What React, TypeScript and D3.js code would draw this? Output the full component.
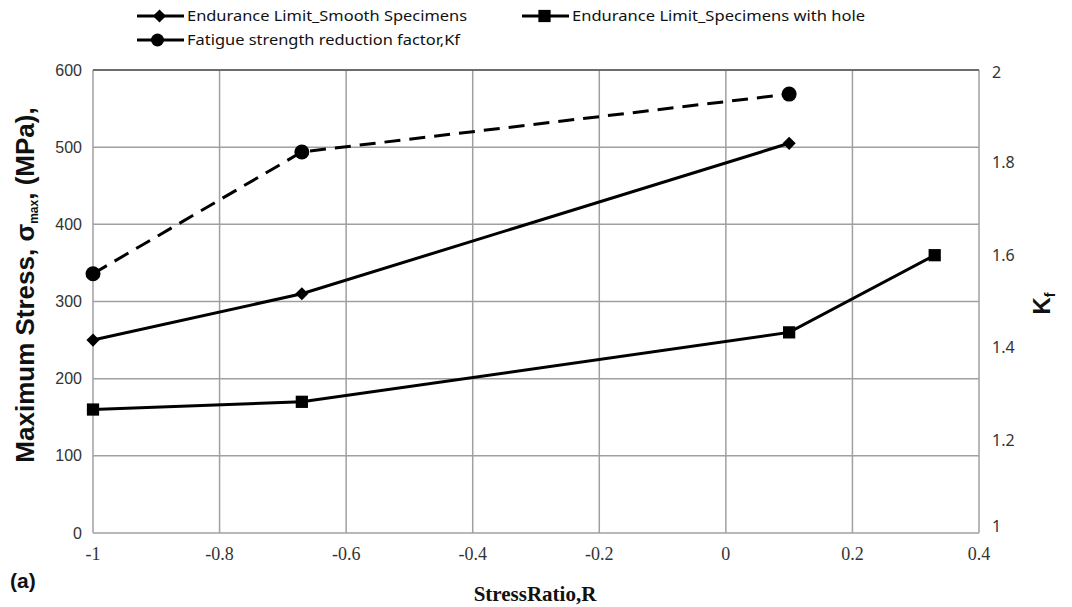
import React, { useRef, useEffect } from 'react'
import * as d3 from 'd3'

// Stress ratio R values for each series
const smoothR = [-1, -0.67, 0.1]
const smoothStress = [250, 310, 505]

const holeR = [-1, -0.67, 0.1, 0.33]
const holeStress = [160, 170, 260, 360]

const kfR = [-1, -0.67, 0.1]
const kfValues = [1.56, 1.823, 1.948]

const xTicks = [-1, -0.8, -0.6, -0.4, -0.2, 0, 0.2, 0.4]
const yTicks = [0, 100, 200, 300, 400, 500, 600]
const y2Ticks = [1, 1.2, 1.4, 1.6, 1.8, 2]

const legendLabels = [
  'Endurance Limit_Smooth Specimens',
  'Endurance Limit_Specimens with hole',
  'Fatigue strength reduction factor,Kf',
]

export default function App() {
  const svgRef = useRef<SVGSVGElement>(null)

  useEffect(() => {
    if (!svgRef.current) return
    const svg = d3.select(svgRef.current)
    svg.selectAll('*').remove()

    const left = 93, right = 979, top = 70, bottom = 533

    const x = d3.scaleLinear().domain([-1, 0.4]).range([left, right])
    const y = d3.scaleLinear().domain([0, 600]).range([bottom, top])
    const y2 = d3.scaleLinear().domain([1, 2]).range([bottom, top])

    const grid = '#a0a0a0'

    // gridlines
    const g = svg.append('g')
    g.selectAll('.hgrid')
      .data(yTicks)
      .enter().append('line')
      .attr('x1', left).attr('x2', right)
      .attr('y1', d => y(d)).attr('y2', d => y(d))
      .attr('stroke', grid).attr('stroke-width', 1.5)
    g.selectAll('.vgrid')
      .data(xTicks)
      .enter().append('line')
      .attr('x1', d => x(d)).attr('x2', d => x(d))
      .attr('y1', top).attr('y2', bottom)
      .attr('stroke', grid).attr('stroke-width', 1.5)
    g.append('line')
      .attr('x1', left).attr('x2', right).attr('y1', top).attr('y2', top)
      .attr('stroke', '#555').attr('stroke-width', 1.5)

    // left tick labels
    g.selectAll('.ylab')
      .data(yTicks)
      .enter().append('text')
      .attr('x', left - 11).attr('y', d => y(d)).attr('dy', '0.35em')
      .attr('text-anchor', 'end')
      .attr('font-family', 'Liberation Sans, Arial, sans-serif')
      .attr('font-size', 16).attr('fill', '#333')
      .text(d => d)

    // right tick labels
    g.selectAll('.y2lab')
      .data(y2Ticks)
      .enter().append('text')
      .attr('x', right + 13).attr('y', d => y2(d)).attr('dy', d => d === 1 ? '-0.05em' : d === 2 ? '0.5em' : '0.35em')
      .attr('text-anchor', 'start')
      .attr('font-family', 'Noto Sans, sans-serif')
      .attr('font-size', 16).attr('fill', '#333')
      .text(d => d)

    // x tick labels
    g.selectAll('.xlab')
      .data(xTicks)
      .enter().append('text')
      .attr('x', d => x(d)).attr('y', bottom + 27)
      .attr('text-anchor', 'middle')
      .attr('font-family', "'Liberation Serif', serif")
      .attr('font-size', 18).attr('fill', '#333')
      .text(d => d)

    // series lines
    const line = d3.line<[number, number]>().x(d => d[0]).y(d => d[1])
    const smoothPts: [number, number][] = smoothR.map((r, i) => [x(r), y(smoothStress[i])])
    const holePts: [number, number][] = holeR.map((r, i) => [x(r), y(holeStress[i])])
    const kfPts: [number, number][] = kfR.map((r, i) => [x(r), y2(kfValues[i])])

    g.append('path').attr('d', line(smoothPts)).attr('fill', 'none')
      .attr('stroke', '#000').attr('stroke-width', 3)
    g.append('path').attr('d', line(holePts)).attr('fill', 'none')
      .attr('stroke', '#000').attr('stroke-width', 3)
    g.append('path').attr('d', line(kfPts)).attr('fill', 'none')
      .attr('stroke', '#000').attr('stroke-width', 3).attr('stroke-dasharray', '16 9')

    const diamond = d3.symbol().type(d3.symbolDiamond2).size(110)
    const square = d3.symbol().type(d3.symbolSquare).size(150)

    g.selectAll('.dm').data(smoothPts).enter().append('path')
      .attr('d', diamond()).attr('transform', d => `translate(${d[0]},${d[1]})`).attr('fill', '#000')
    g.selectAll('.sq').data(holePts).enter().append('path')
      .attr('d', square()).attr('transform', d => `translate(${d[0]},${d[1]})`).attr('fill', '#000')
    g.selectAll('.ci').data(kfPts).enter().append('circle')
      .attr('cx', d => d[0]).attr('cy', d => d[1]).attr('r', 7.5).attr('fill', '#000')

    // legend
    const legend = svg.append('g')
    const legendItems = [
      { x0: 137, x1: 184, y: 16, tx: 187, w: 280, marker: 'diamond' },
      { x0: 522, x1: 569, y: 16, tx: 572, w: 293, marker: 'square' },
      { x0: 137, x1: 184, y: 40, tx: 187, w: 273, marker: 'circle' },
    ]
    legendItems.forEach((it, i) => {
      legend.append('line').attr('x1', it.x0).attr('x2', it.x1).attr('y1', it.y).attr('y2', it.y)
        .attr('stroke', '#000').attr('stroke-width', 3)
      const mx = (it.x0 + it.x1) / 2 - 1
      if (it.marker === 'diamond') {
        legend.append('path').attr('d', diamond()).attr('transform', `translate(${mx},${it.y})`)
      } else if (it.marker === 'square') {
        legend.append('path').attr('d', square()).attr('transform', `translate(${mx},${it.y})`)
      } else {
        legend.append('circle').attr('cx', mx - 2).attr('cy', it.y).attr('r', 6.5)
      }
      legend.append('text').attr('x', it.tx).attr('y', it.y).attr('dy', '0.35em')
        .attr('font-family', 'Noto Sans, sans-serif').attr('font-size', 15).attr('fill', '#111')
        .attr('textLength', it.w).attr('lengthAdjust', 'spacingAndGlyphs')
        .text(legendLabels[i])
    })

    // left axis title
    const yt = svg.append('text')
      .attr('transform', `translate(34,285) rotate(-90)`)
      .attr('text-anchor', 'middle')
      .attr('font-family', 'Liberation Sans, Arial, sans-serif')
      .attr('font-weight', 'bold').attr('font-size', 26).attr('fill', '#111')
    yt.append('tspan').text('Maximum Stress, σ')
    yt.append('tspan').attr('font-size', 12).attr('dy', 4).text('max')
    yt.append('tspan').attr('dy', -4).text(', (MPa),')

    // right axis title
    const y2t = svg.append('text')
      .attr('transform', `translate(1050,${(top + bottom) / 2 + 2}) rotate(-90)`)
      .attr('text-anchor', 'middle')
      .attr('font-family', 'Liberation Sans, Arial, sans-serif')
      .attr('font-weight', 'bold').attr('font-size', 24).attr('fill', '#111')
    y2t.append('tspan').text('K')
    y2t.append('tspan').attr('font-size', 14).attr('dy', 5).text('f')

    // x axis title
    svg.append('text')
      .attr('x', 535).attr('y', 601)
      .attr('text-anchor', 'middle')
      .attr('font-family', "'Liberation Serif', serif")
      .attr('font-weight', 'bold').attr('font-size', 21).attr('fill', '#111')
      .text('StressRatio,R')

    svg.append('text')
      .attr('x', 10).attr('y', 588)
      .attr('font-family', 'Liberation Sans, Arial, sans-serif')
      .attr('font-weight', 'bold').attr('font-size', 21).attr('fill', '#111')
      .text('(a)')
  }, [])

  return (
    <svg ref={svgRef} width={1072} height={607}
      style={{ position: 'absolute', left: 0, top: 0, background: '#fff' }} />
  )
}
